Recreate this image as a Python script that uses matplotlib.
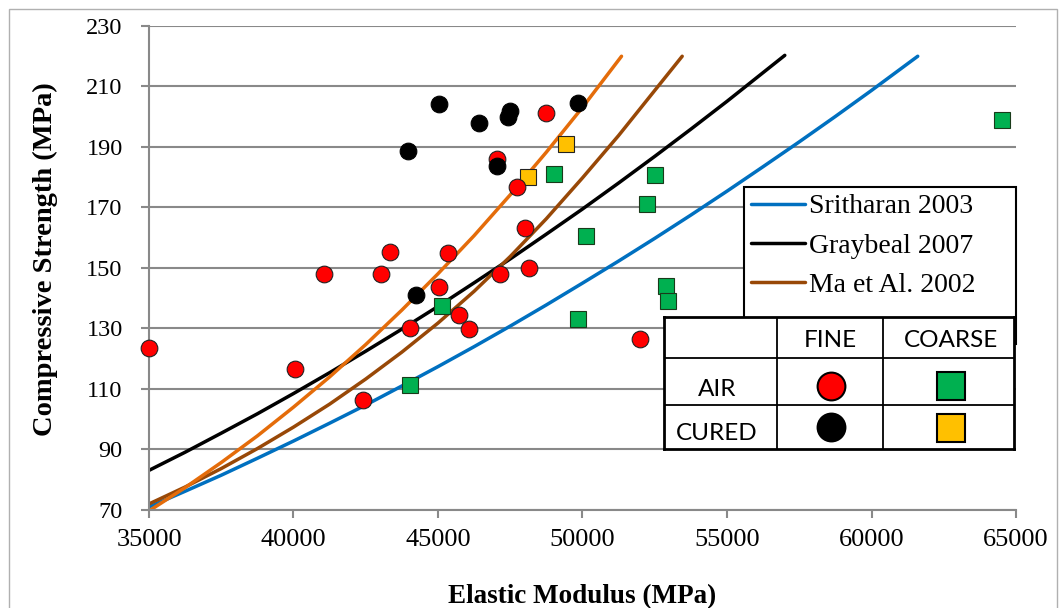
import numpy as np
import matplotlib
matplotlib.use("Agg")
import matplotlib.pyplot as plt
from matplotlib.patches import Rectangle

# ---- data ----
# fine aggregate, air cured (red circles)
fine_air_E = [35000, 40050, 41050, 42400, 43030, 43340, 44030, 45040, 45350,
              45730, 46070, 47140, 48010, 48150, 47030, 47730, 48730, 51990]
fine_air_S = [123.5, 116.6, 148.0, 106.3, 148.0, 155.3, 130.2, 143.7, 155.0,
              134.5, 129.7, 148.0, 163.2, 150.0, 186.0, 176.7, 201.3, 126.5]
# fine aggregate, cured (black circles)
fine_cured_E = [44240, 45045, 46410, 47490, 47430, 49830, 43950, 47030]
fine_cured_S = [141.1, 204.1, 197.8, 202.0, 200.0, 204.4, 188.8, 183.7]
# coarse aggregate, air cured (green squares)
coarse_air_E = [45140, 44030, 50120, 49840, 49020, 52230, 52510, 52890, 52960, 64500]
coarse_air_S = [137.4, 111.3, 160.6, 133.1, 181.0, 171.0, 180.8, 144.0, 139.1, 199.0]
# coarse aggregate, cured (yellow squares)
coarse_cured_E = [49440, 48120]
coarse_cured_S = [190.9, 180.0]

# model curves
sritharan_E = [35000, 36250, 37500, 38750, 40000, 41250, 42500, 43750, 45000, 46250, 47500,
               48750, 50000, 51250, 52500, 53750, 55000, 56250, 57500, 58750, 60000, 61600]
sritharan_S = [71.0, 76.2, 81.5, 87.1, 92.8, 98.7, 104.7, 111.0, 117.4, 124.0, 130.8,
               137.8, 145.0, 152.3, 159.8, 167.5, 175.4, 183.5, 191.7, 200.1, 208.7, 220.0]
graybeal_E = [35000, 36250, 37500, 38750, 40000, 41250, 42500, 43750, 45000, 46250,
              47500, 48750, 50000, 51250, 52500, 53750, 55000, 56250, 57000]
graybeal_S = [83.1, 89.1, 95.4, 101.8, 108.5, 115.4, 122.5, 129.8, 137.3, 145.1,
              153.0, 161.2, 169.5, 178.1, 186.9, 195.9, 205.1, 214.6, 220.3]
ma_E = [35000, 36250, 37500, 38750, 40000, 41250, 42500, 43750, 45000, 46250,
        47500, 48750, 50000, 51250, 52500, 53450]
ma_S = [72.0, 77.6, 83.7, 90.3, 97.4, 105.0, 113.3, 122.2, 131.8, 142.3,
        153.8, 166.3, 179.8, 193.8, 208.7, 220.0]
orange_E = [35000, 36250, 37500, 38750, 40000, 41250, 42500, 43750, 45000, 46250,
            47500, 48750, 50000, 51350]
orange_S = [69.7, 77.4, 85.7, 94.5, 104.0, 114.0, 124.7, 136.1, 148.1, 160.7,
            174.2, 188.3, 203.1, 220.0]

legend_labels = ["Sritharan 2003", "Graybeal 2007", "Ma et Al. 2002"]
x_ticks = [35000, 40000, 45000, 50000, 55000, 60000, 65000]
y_ticks = [70, 90, 110, 130, 150, 170, 190, 210, 230]

BLUE = "#0070C0"
BROWN = "#984807"
ORANGE = "#E46C0A"
RED = "#FF0000"
GREEN = "#00B050"
YELLOW = "#FFC000"
GRID = "#898989"
SERIF = "Liberation Serif"

W, H = 1061, 608
fig = plt.figure(figsize=(W / 100, H / 100), dpi=100)
fig.patch.set_facecolor("white")
fig.patches.append(Rectangle((9 / W, -0.1), 1048 / W, 1.1 - 9 / H,
                             transform=fig.transFigure, fill=False,
                             edgecolor="#B0B0B0", lw=1.0))

ax = fig.add_axes([149 / W, 1 - 510 / H, (1016 - 149) / W, (510 - 26) / H])
ax.set_xlim(35000, 65000)
ax.set_ylim(70, 230)
ax.set_xticks(x_ticks)
ax.set_yticks(y_ticks)
ax.set_xticklabels([str(v) for v in x_ticks], fontfamily=SERIF, fontsize=19)
ax.set_yticklabels([str(v) for v in y_ticks], fontfamily=SERIF, fontsize=17.5)
ax.tick_params(axis="y", length=6, width=1.5, color=GRID, pad=13)
ax.tick_params(axis="x", length=6, width=1.5, color=GRID, pad=8)
for s in ["top", "right"]:
    ax.spines[s].set_visible(False)
for s in ["left", "bottom"]:
    ax.spines[s].set_color(GRID)
    ax.spines[s].set_linewidth(1.5)
ax.yaxis.grid(True, color=GRID, lw=1.5)
ax.set_axisbelow(True)

lw = 2.5
l1, = ax.plot(sritharan_E, sritharan_S, color=BLUE, lw=lw, solid_capstyle="round", zorder=2)
l2, = ax.plot(graybeal_E, graybeal_S, color="black", lw=lw, solid_capstyle="round", zorder=2)
l3, = ax.plot(ma_E, ma_S, color=BROWN, lw=lw, solid_capstyle="round", zorder=2)
l4, = ax.plot(orange_E, orange_S, color=ORANGE, lw=lw, solid_capstyle="round", zorder=2)

ms = 12
ax.plot(coarse_air_E, coarse_air_S, "s", color=GREEN, mec="#1a3a1a", mew=0.8, ms=ms, zorder=3, clip_on=False)
ax.plot(coarse_cured_E, coarse_cured_S, "s", color=YELLOW, mec="#222222", mew=0.8, ms=ms, zorder=3)
ax.plot(fine_air_E, fine_air_S, "o", color=RED, mec="#222222", mew=0.8, ms=ms, zorder=3, clip_on=False)
ax.plot(fine_cured_E, fine_cured_S, "o", color="black", mec="black", mew=0.8, ms=ms, zorder=3)

leg = ax.legend([l1, l2, l3, l4], legend_labels + [""], loc="upper left", mode="expand",
                bbox_to_anchor=(744 / W, 1 - 360 / H, 272 / W, 173 / H),
                bbox_transform=fig.transFigure,
                prop={"family": SERIF, "size": 20},
                frameon=True, fancybox=False, framealpha=1, edgecolor="black",
                handlelength=1.95, handletextpad=0.15, labelspacing=0.5,
                borderpad=0.25, borderaxespad=0)
leg.get_frame().set_linewidth(1.5)

fig.text(582 / W, 1 - 597 / H, "Elastic Modulus (MPa)", ha="center", va="center",
         fontfamily=SERIF, fontweight="bold", fontsize=19.5)
fig.text(45 / W, 1 - 259 / H, "Compressive Strength (MPa)", ha="center", va="center",
         rotation=90, fontfamily=SERIF, fontweight="bold", fontsize=20.5)

# ---- key table ----
tb = fig.add_axes([664 / W, 1 - 449 / H, 350 / W, 132 / H])
tb.set_xlim(0, 1)
tb.set_ylim(0, 1)
tb.set_xticks([])
tb.set_yticks([])
tb.set_facecolor("white")
for s in tb.spines.values():
    s.set_color("black")
    s.set_linewidth(2)
col_lines = [0.322, 0.625]
row_lines = [0.686, 0.330]
for c in col_lines:
    tb.axvline(c, color="black", lw=1.3)
for r in row_lines:
    tb.axhline(r, color="black", lw=1.3)
tfont = {"family": "Lato", "size": 17.5}
col_x = [0.151, 0.476, 0.819]
row_y = [0.83, 0.48, 0.14]
tb.text(col_x[1], row_y[0] - 0.01, "FINE", ha="center", va="center", fontdict=tfont)
tb.text(col_x[2], row_y[0] - 0.01, "COARSE", ha="center", va="center", fontdict=tfont)
tb.text(col_x[0], row_y[1] - 0.03, "AIR", ha="center", va="center", fontdict=tfont)
tb.text(col_x[0], row_y[2] - 0.02, "CURED", ha="center", va="center", fontdict=tfont)
km = 20
tb.plot(col_x[1], row_y[1], "o", color=RED, mec="black", mew=1.5, ms=km)
tb.plot(col_x[2], row_y[1], "s", color=GREEN, mec="black", mew=1.5, ms=km)
tb.plot(col_x[1], row_y[2] + 0.03, "o", color="black", mec="black", mew=1.5, ms=km)
tb.plot(col_x[2], row_y[2] + 0.02, "s", color=YELLOW, mec="black", mew=1.5, ms=km)

fig.savefig("out.png", dpi=100)
